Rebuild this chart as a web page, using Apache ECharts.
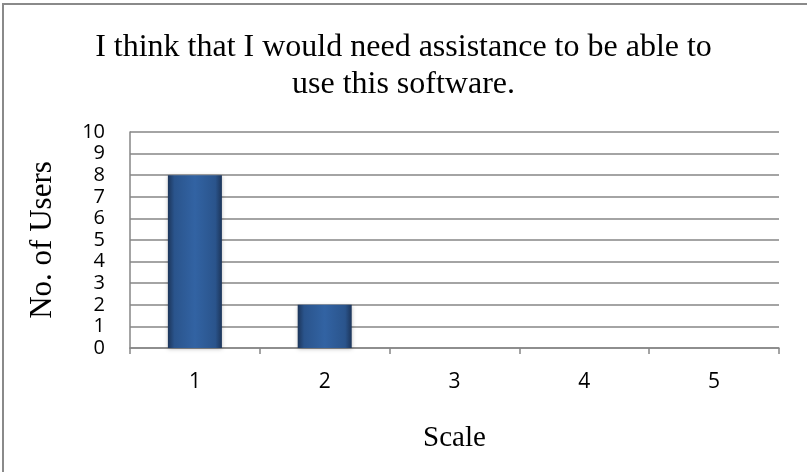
<!DOCTYPE html>
<html>
<head>
<meta charset="utf-8">
<script src="https://cdn.jsdelivr.net/npm/echarts@6/dist/echarts.min.js"></script>
<style>
  html, body { margin: 0; padding: 0; background: #fff; }
  #chart { width: 807px; height: 472px; }
</style>
</head>
<body>
<div id="chart"></div>
<script>
const titleText = 'I think that I would need assistance to be able to\nuse this software.';
const categories = ['1', '2', '3', '4', '5'];
const users = [8, 2, 0, 0, 0];
const yTicks = { min: 0, max: 10, interval: 1 };

const chart = echarts.init(document.getElementById('chart'));

const serif = '"Liberation Serif", "DejaVu Serif", serif';
const sans = '"Open Sans", "Liberation Sans", sans-serif';

const option = {
    backgroundColor: '#fff',
    animation: false,
    title: {
        text: titleText,
        left: 'center',
        top: 24,
        textStyle: {
            fontFamily: serif,
            fontSize: 32,
            fontWeight: 'normal',
            color: '#000',
            lineHeight: 37,
        },
    },
    graphic: [
        {
            type: 'rect',
            shape: { x: 3, y: 4, width: 850, height: 520 },
            style: { fill: 'none', stroke: '#8a8a8a', lineWidth: 2 },
            silent: true,
        },
    ],
    grid: { left: 130, right: 28, top: 132, bottom: 124 },
    xAxis: {
        type: 'category',
        data: categories,
        name: 'Scale',
        nameLocation: 'middle',
        nameGap: 76,
        nameTextStyle: { fontFamily: serif, fontSize: 29, color: '#000' },
        axisLine: { lineStyle: { color: '#868686', width: 1.5 } },
        axisTick: { show: true, length: 6, lineStyle: { color: '#868686', width: 1.5 } },
        axisLabel: { fontFamily: sans, fontSize: 21, color: '#000', margin: 24 },
    },
    yAxis: {
        type: 'value',
        min: yTicks.min,
        max: yTicks.max,
        interval: yTicks.interval,
        name: 'No. of Users',
        nameLocation: 'middle',
        nameGap: 72,
        nameTextStyle: { fontFamily: serif, fontSize: 31, color: '#000' },
        axisLine: { show: true, lineStyle: { color: '#868686', width: 1.5 } },
        axisTick: { show: false },
        axisLabel: {
            fontFamily: sans, fontSize: 20, color: '#000', margin: 25, lineHeight: 20,
        },
        splitLine: { lineStyle: { color: '#868686', width: 1.5 } },
    },
    series: [
        {
            name: 'No. of Users',
            type: 'bar',
            data: users,
            barWidth: 54,
            itemStyle: {
                color: new echarts.graphic.LinearGradient(0, 0, 1, 0, [
                    { offset: 0, color: '#1c355a' },
                    { offset: 0.12, color: '#2a548c' },
                    { offset: 0.5, color: '#3263a3' },
                    { offset: 0.88, color: '#2a548c' },
                    { offset: 1, color: '#1c355a' },
                ]),
                shadowColor: 'rgba(0,0,0,0.25)',
                shadowBlur: 4,
                shadowOffsetY: 1,
            },
        },
    ],
};

chart.setOption(option);
</script>
</body>
</html>
